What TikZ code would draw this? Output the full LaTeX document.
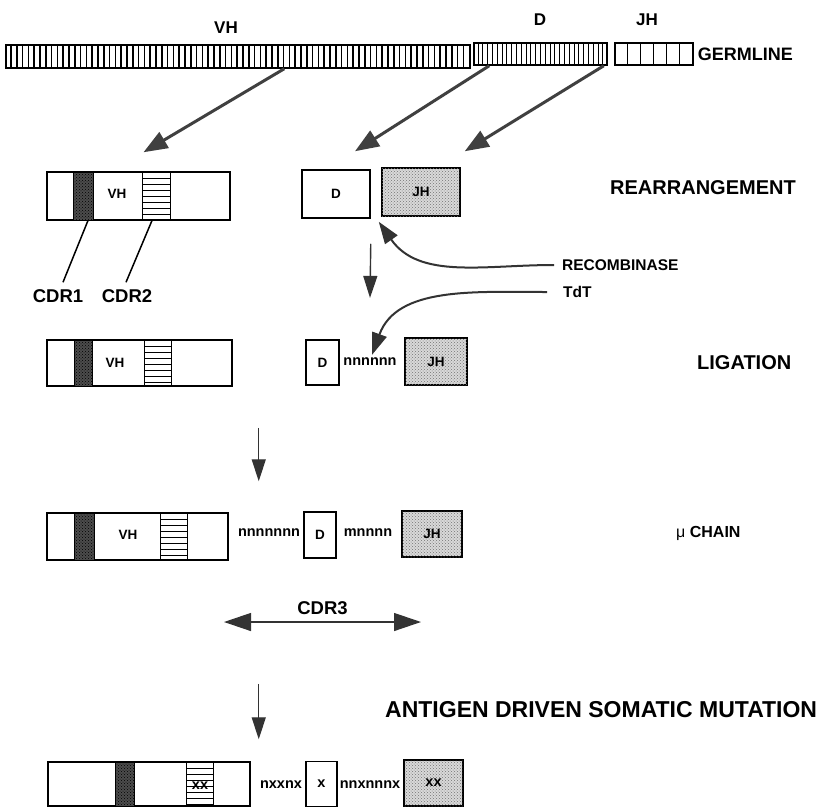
\documentclass[tikz,border=0pt]{standalone}
\usepackage{fontspec}
\setmainfont{Liberation Sans}
\usetikzlibrary{positioning,arrows.meta,patterns}

\begin{document}
\begin{tikzpicture}[x=1pt,y=-1pt,
    lbl/.style={font=\bfseries\fontsize{#1}{#1}\selectfont,inner sep=0pt},
    box/.style={draw,line width=1.5pt,fill=white,inner sep=0pt},
    grey/.style={box,fill=black!15,
        postaction={pattern=crosshatch dots,pattern color=black!55}},
    dark/.style={draw,line width=1pt,inner sep=0pt,fill=black!70,
        postaction={pattern=crosshatch dots,pattern color=black}},
    lined/.style={draw,line width=1pt,inner sep=0pt,
        path picture={\foreach \k in {1,...,7}
            \draw[line width=0.9pt] ([yshift=-\k*6pt]path picture bounding box.north west)
                -- ([yshift=-\k*6pt]path picture bounding box.north east);}},
    garrow/.style={-{Triangle[length=24pt,width=18pt]},line width=3pt,black!75},
    carrow/.style={-{Triangle[length=22pt,width=15pt]},line width=2pt,black!80},
    darrow/.style={-{Triangle[length=22pt,width=14pt]},line width=1.4pt,black!80}]
    \useasboundingbox (0,0) rectangle (826,809);

    % germline
    \node[lbl=17] (tv) at (226,28) {VH};
    \node[lbl=17] (td) at (540,20) {D};
    \node[lbl=17] (tj) at (647,20) {JH};
    \node[box,minimum width=464pt,minimum height=23pt] (gv) at (238,56.5) {};
    \foreach \i in {1,...,79}
        \draw[line width=1.6pt] ([xshift=\i*5.8pt]gv.south west) -- ([xshift=\i*5.8pt]gv.north west);
    \node[box,minimum width=133pt,minimum height=22pt] (gd) at (540.5,54) {};
    \foreach \i in {1,...,27}
        \draw[line width=1.1pt] ([xshift=\i*4.8pt]gd.south west) -- ([xshift=\i*4.8pt]gd.north west);
    \node[box,minimum width=78pt,minimum height=22pt] (gj) at (654,54) {};
    \foreach \i in {1,...,5}
        \draw[line width=1pt] ([xshift=\i*13pt]gj.south west) -- ([xshift=\i*13pt]gj.north west);
    \node[lbl=18,right=4pt of gj] (gl) {GERMLINE};

    % rearrangement
    \node[box,minimum width=183pt,minimum height=48pt] (v2) at (138.5,196) {};
    \node[dark,minimum width=20pt,minimum height=48pt] (k2) at (83,196) {};
    \node[lbl=13.5] (h2) at (117,194) {VH};
    \node[lined,minimum width=28pt,minimum height=48pt] (s2) at (156,196) {};
    \node[box,lbl=13.5,minimum width=68pt,minimum height=48pt] (d2) at (336,194) {D};
    \node[grey,lbl=13.5,minimum width=78pt,minimum height=48pt] (j2) at (421,192) {JH};
    \node[lbl=20,anchor=west] (re) at (610,188) {REARRANGEMENT};
    \node[lbl=18.5] (c1) at (58,296) {CDR1};
    \node[lbl=18.5] (c2) at (127,296) {CDR2};
    \node[lbl=15.5,anchor=west] (rc) at (562,265) {RECOMBINASE};
    \node[lbl=15.5,anchor=west] (tt) at (563,292) {TdT};

    % ligation
    \node[box,minimum width=185pt,minimum height=46pt] (v3) at (139.5,363) {};
    \node[dark,minimum width=18pt,minimum height=46pt] (k3) at (83,363) {};
    \node[lbl=13.5] (h3) at (115,363) {VH};
    \node[lined,minimum width=27pt,minimum height=46pt] (s3) at (157.5,363) {};
    \node[box,lbl=13.5,minimum width=33pt,minimum height=45pt] (d3) at (322.5,362.5) {D};
    \node[lbl=14.5] (n3) at (370,362) {nnnnnn};
    \node[grey,lbl=13.5,minimum width=62pt,minimum height=47pt] (j3) at (436,361.5) {JH};
    \node[lbl=20,anchor=west] (li) at (697,363) {LIGATION};

    % mu chain
    \node[box,minimum width=181pt,minimum height=47pt] (v4) at (137.5,536.5) {};
    \node[dark,minimum width=20pt,minimum height=47pt] (k4) at (84,536.5) {};
    \node[lbl=13.5] (h4) at (128,535) {VH};
    \node[lined,minimum width=27pt,minimum height=47pt] (s4) at (173.5,536.5) {};
    \node[lbl=14.5] (n4) at (269,533) {nnnnnnn};
    \node[box,lbl=13.5,minimum width=32pt,minimum height=46pt] (d4) at (320,535) {D};
    \node[lbl=14.5] (m4) at (368,533) {mnnnn};
    \node[grey,lbl=13.5,minimum width=60pt,minimum height=46pt] (j4) at (432,534) {JH};
    \node[lbl=16,anchor=west] (mu) at (676,533) {{\mdseries μ} CHAIN};

    \coordinate (p) at (224,622);
    \coordinate (q) at (421,622);
    \draw[{Triangle[length=27pt,width=18pt]}-{Triangle[length=27pt,width=18pt]},line width=1.3pt,black!80]
        (p) -- node[lbl=18.5,above=7pt,black] (c3) {CDR3} (q);

    % somatic mutation
    \node[lbl=23,anchor=west] (ag) at (385,710) {ANTIGEN DRIVEN SOMATIC MUTATION};
    \node[box,minimum width=202pt,minimum height=44pt] (v5) at (149,784) {};
    \node[dark,minimum width=19pt,minimum height=44pt] (k5) at (125,784) {};
    \node[lined,minimum width=27pt,minimum height=44pt] (s5) at (199.5,784) {};
    \node[lbl=14.5] (x5) at (200,786) {xx};
    \node[lbl=14.5] (n5) at (281,785) {nxxnx};
    \node[box,lbl=14.5,minimum width=31pt,minimum height=45pt] (d5) at (321.5,784) {x};
    \node[lbl=14.5] (m5) at (370,785) {nnxnnnx};
    \node[grey,lbl=14.5,minimum width=59pt,minimum height=46pt] (j5) at (433.5,783) {xx};

    % connectors
    \draw[garrow] ([xshift=279pt]gv.south west) -- ([shift={(5pt,19pt)}]v2.north);
    \draw[garrow] ([xshift=16pt]gd.south west) -- ([shift={(19pt,18pt)}]d2.north);
    \draw[garrow] ([xshift=-4pt]gd.south east) -- ([shift={(4pt,16pt)}]j2.north east);
    \draw[line width=1.5pt] ([xshift=5pt]k2.south) -- ([shift={(5pt,7pt)}]c1.north);
    \draw[line width=1.5pt] ([xshift=-4pt]s2.south) -- ([shift={(-1pt,7pt)}]c2.north);
    \draw[carrow] ([xshift=-8pt]rc.west) to[out=180,in=-55] ([shift={(8pt,-3pt)}]d2.south east);
    \draw[carrow] ([xshift=-16pt]tt.west) to[out=180,in=70] ([shift={(2pt,3pt)}]n3.north);
    \draw[darrow] ([yshift=-25pt]d2.south east) -- ([yshift=60pt]n3.north);
    \draw[darrow] ([shift={(26pt,-41pt)}]v3.south east) -- ([shift={(30pt,31pt)}]v4.north east);
    \draw[darrow] ([shift={(30pt,-123pt)}]v4.south east) -- ([shift={(8pt,22pt)}]v5.north east);
\end{tikzpicture}
\end{document}
